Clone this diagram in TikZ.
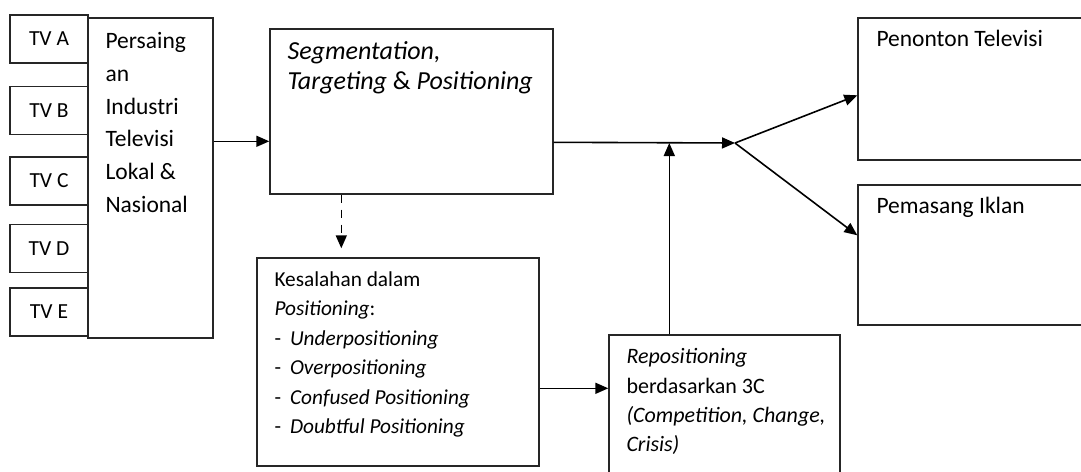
\documentclass[tikz,border=0pt]{standalone}
\usepackage{fontspec}
\setmainfont{Carlito}
\usetikzlibrary{arrows.meta,positioning}

\begin{document}
\begin{tikzpicture}[x=1pt, y=-1pt,
                box/.style = {draw=black!85, line width=1.4pt, inner sep=0pt, font=\fontsize{21.5}{29.5}\selectfont},
                txt/.style = {align=left, inner sep=0pt, font=\fontsize{21.3}{29.5}\selectfont},
                arr/.style = {line width=1.6pt, -{Triangle[length=13pt,width=11pt]}}]
                \useasboundingbox (0,0) rectangle (1081,471);
                \clip (0,0) rectangle (1081,471);
                % stasiun tv
                \node[box, minimum width=78pt, minimum height=48pt] (tva) at (49,39) {TV A};
                \node[box, minimum width=78pt, minimum height=48pt] (tvb) at (49,110.5) {TV B};
                \node[box, minimum width=78pt, minimum height=48pt] (tvc) at (49,181) {TV C};
                \node[box, minimum width=78pt, minimum height=48pt] (tvd) at (49,248.5) {TV D};
                \node[box, minimum width=78pt, minimum height=48pt] (tve) at (49,312) {TV E};
                % kotak utama
                \node[box, minimum width=125pt, minimum height=320pt] (pers) at (150.5,178) {};
                \node[txt, below right=15pt and 18pt of pers.north west, font=\fontsize{23.5}{32.7}\selectfont] (perstxt)
                    {Persaing\\an\\Industri\\Televisi\\Lokal \&\\Nasional};
                \node[box, minimum width=283pt, minimum height=165pt] (stp) at (411.5,111.5) {};
                \node[txt, below right=13pt and 18pt of stp.north west, font=\fontsize{26}{30}\selectfont] (stptxt)
                    {\textit{Segmentation,}\\\textit{Targeting} \& \textit{Positioning}};
                \node[box, minimum width=282pt, minimum height=208pt] (kes) at (398,362) {};
                \node[txt, below right=14pt and 18pt of kes.north west] (kestxt)
                    {Kesalahan dalam\\\textit{Positioning}:\\
                     -\hspace{9pt}\textit{Underpositioning}\\
                     -\hspace{9pt}\textit{Overpositioning}\\
                     -\hspace{9pt}\textit{Confused Positioning}\\
                     -\hspace{9pt}\textit{Doubtful Positioning}};
                \node[box, minimum width=231pt, minimum height=155pt] (rep) at (724.5,412.5) {};
                \node[txt, below right=14pt and 18pt of rep.north west, font=\fontsize{22}{29.3}\selectfont] (reptxt)
                    {\textit{Repositioning}\\berdasarkan 3C\\\textit{(Competition, Change,}\\\textit{Crisis)}};
                \node[box, minimum width=242pt, minimum height=142pt] (pen) at (979,89) {};
                \node[txt, below right=13pt and 19pt of pen.north west, font=\fontsize{23.5}{30}\selectfont] (pentxt) {Penonton Televisi};
                \node[box, minimum width=242pt, minimum height=140pt] (pem) at (979,255) {};
                \node[txt, below right=13pt and 19pt of pem.north west, font=\fontsize{23.5}{30}\selectfont] (pemtxt) {Pemasang Iklan};
                \coordinate (split) at (735,143);
                % panah
                \draw[arr] ([yshift=-124pt]pers.north east) -- ([yshift=-113pt]stp.north west);
                \draw[arr] ([yshift=-114pt]stp.north east) -- (split);
                \draw[arr] (split) -- ([yshift=-78pt]pen.north west);
                \draw[arr] (split) -- ([yshift=-51pt]pem.north west);
                \draw[arr, dash pattern=on 8pt off 7pt, shorten >=9pt] ([xshift=72pt]stp.south west) -- ([xshift=85pt]kes.north west);
                \draw[arr] ([yshift=-131pt]kes.north east) -- ([yshift=-54pt]rep.north west);
                \draw[arr] ([xshift=61pt]rep.north west) coordinate (rtop) -- (rtop |- split);
\end{tikzpicture}
\end{document}
